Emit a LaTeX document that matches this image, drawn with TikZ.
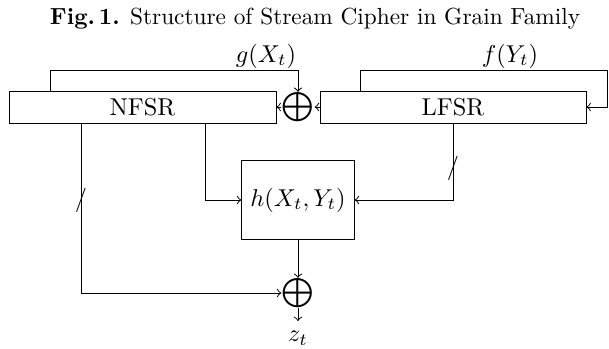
\documentclass[tikz,border=0pt]{standalone}
\usepackage{graphicx}
\usepackage{fontspec}
\begin{document}
\begin{tikzpicture}[x=0.41pt,y=-0.41pt,
  reg/.style={draw, minimum height=32*0.41pt, inner sep=0pt},
  xorn/.style={inner sep=0pt},
  lbl/.style={inner sep=0pt}]
\useasboundingbox (0,0) rectangle (609,348);
\node[lbl, font=\fontsize{9.55pt}{11pt}\selectfont] (title) at (315,19) {\textbf{Fig.\,1.} Structure of Stream Cipher in Grain Family};
\node[reg, minimum width=267*0.41pt] (nfsr) at (142.5,107) {NFSR};
\node[reg, minimum width=266*0.41pt] (lfsr) at (453,107) {LFSR};
\node[xorn] (x1) at (298,107) {\scalebox{1.2}{$\bigoplus$}};
\node[draw, minimum width=112.6*0.41pt, minimum height=78.6*0.41pt, inner sep=0pt] (h) at (298,200) {$h(X_t,Y_t)$};
\node[xorn] (x2) at (298,293) {\scalebox{1.2}{$\bigoplus$}};
\node[lbl] (z) at (298,338) {$z_t$};
\coordinate (zt) at (298,321);
\coordinate (gA) at (50,70);
\coordinate (fA) at (360,70);
\coordinate (fB) at (607,70);
\coordinate (nA) at (205,200);
\coordinate (nB) at (81,293);
\node[lbl] (gl) at (266,56) {$g(X_t)$};
\node[lbl] (fl) at (510,56) {$f(Y_t)$};
\draw[->] (nfsr.north -| gA) -- (gA) -| (x1.north);
\draw[->] (lfsr.north -| fA) -- (fA) -- (fB) |- (lfsr.east);
\draw[->] (x1) -- (nfsr);
\draw[->] (lfsr) -- (x1);
\draw[->] (nfsr.south -| nA) |- (h.west);
\draw[->] (lfsr.south) |- (h.east);
\draw[->] (nfsr.south -| nB) |- (x2.west);
\draw[->] (h.south) -- (x2.north);
\draw[->] (x2.south) -- (zt);
\node[lbl] (s1) at (81,200) {$/$};
\node[lbl] (s2) at (453,168) {$/$};
\end{tikzpicture}
\end{document}
